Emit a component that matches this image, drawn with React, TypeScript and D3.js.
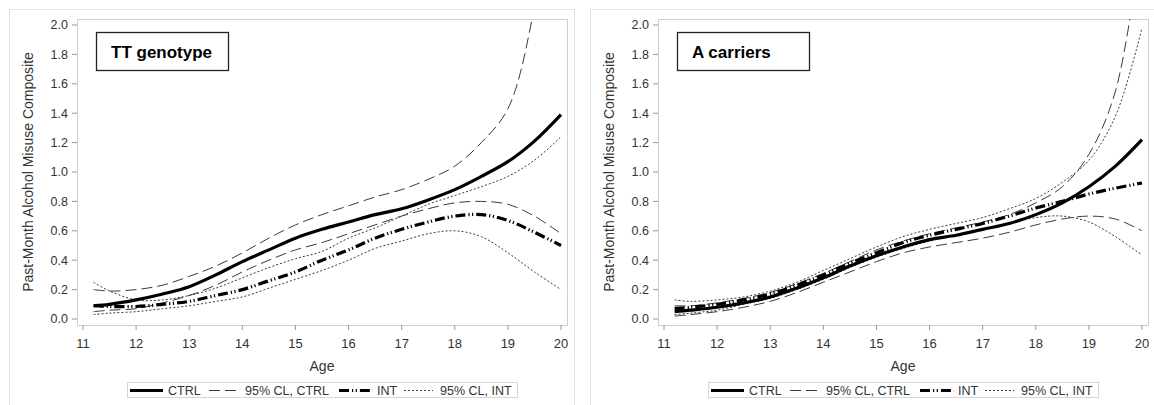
import React from 'react';
import * as d3 from 'd3';

// ages at which the fitted curves were read
const ages = [11.2, 11.5, 12, 12.5, 13, 13.5, 14, 14.5, 15, 15.5, 16, 16.5, 17, 17.5, 18, 18.5, 19, 19.5, 20];
const xTicks = [11, 12, 13, 14, 15, 16, 17, 18, 19, 20];
const yTicks = [0, 0.2, 0.4, 0.6, 0.8, 1.0, 1.2, 1.4, 1.6, 1.8, 2.0];

// TT genotype
const ttCtrl = [0.09, 0.10, 0.13, 0.17, 0.22, 0.30, 0.39, 0.47, 0.55, 0.61, 0.66, 0.71, 0.75, 0.81, 0.88, 0.97, 1.07, 1.21, 1.39];
const ttCtrlUpper = [0.20, 0.19, 0.20, 0.23, 0.29, 0.36, 0.45, 0.55, 0.64, 0.71, 0.77, 0.83, 0.88, 0.95, 1.04, 1.20, 1.43, 2.12, 3.3];
const ttCtrlLower = [0.05, 0.06, 0.07, 0.11, 0.16, 0.23, 0.32, 0.40, 0.47, 0.52, 0.58, 0.64, 0.70, 0.75, 0.79, 0.80, 0.78, 0.70, 0.58];
const ttInt = [0.09, 0.085, 0.085, 0.10, 0.12, 0.16, 0.20, 0.26, 0.32, 0.40, 0.47, 0.55, 0.61, 0.66, 0.70, 0.71, 0.67, 0.59, 0.50];
const ttIntUpper = [0.25, 0.19, 0.13, 0.13, 0.16, 0.21, 0.28, 0.35, 0.41, 0.46, 0.55, 0.62, 0.70, 0.78, 0.84, 0.90, 0.97, 1.08, 1.24];
const ttIntLower = [0.03, 0.04, 0.05, 0.07, 0.09, 0.12, 0.15, 0.21, 0.27, 0.33, 0.40, 0.48, 0.53, 0.58, 0.60, 0.56, 0.45, 0.32, 0.20];

// A carriers
const aCtrl = [0.05, 0.06, 0.08, 0.11, 0.15, 0.21, 0.28, 0.36, 0.43, 0.49, 0.54, 0.57, 0.61, 0.65, 0.71, 0.79, 0.90, 1.04, 1.22];
const aCtrlUpper = [0.09, 0.09, 0.11, 0.14, 0.18, 0.24, 0.31, 0.39, 0.47, 0.53, 0.58, 0.62, 0.66, 0.71, 0.79, 0.90, 1.12, 1.55, 2.6];
const aCtrlLower = [0.02, 0.03, 0.05, 0.08, 0.12, 0.18, 0.25, 0.32, 0.39, 0.45, 0.49, 0.52, 0.55, 0.59, 0.64, 0.68, 0.70, 0.68, 0.60];
const aInt = [0.07, 0.08, 0.10, 0.13, 0.17, 0.23, 0.30, 0.38, 0.45, 0.52, 0.57, 0.61, 0.65, 0.70, 0.755, 0.80, 0.85, 0.89, 0.925];
const aIntUpper = [0.13, 0.12, 0.13, 0.15, 0.19, 0.25, 0.33, 0.41, 0.49, 0.56, 0.61, 0.65, 0.69, 0.75, 0.82, 0.93, 1.08, 1.38, 1.98];
const aIntLower = [0.03, 0.04, 0.06, 0.10, 0.14, 0.20, 0.27, 0.35, 0.42, 0.48, 0.53, 0.57, 0.61, 0.65, 0.69, 0.70, 0.66, 0.56, 0.435];

const legendLabels = ['CTRL', '95% CL, CTRL', 'INT', '95% CL, INT'];

// 0 CTRL, 1 CL CTRL, 2 INT, 3 CL INT
const styles = [
    { stroke: '#000', width: 3.2, dash: null },
    { stroke: '#3a3a3a', width: 1, dash: '11,5' },
    { stroke: '#000', width: 3.2, dash: '10,3,1.2,2.5,1.2,3' },
    { stroke: '#3a3a3a', width: 1, dash: '2,2' },
];

const font = '"Liberation Sans", Arial, sans-serif';

// series: [ctrl, ctrlUpper, ctrlLower, int, intUpper, intLower]
function Panel({ left, title, series, clipId }) {
    const top = 19;
    const bottom = 325;
    const right = left + 490;

    const x = d3.scaleLinear().domain([10.887, 20.113]).range([left, right]);
    const y = d3.scaleLinear().domain([0, 2]).range([319, 25]);

    const line = d3.line()
        .x((d) => x(d[0]))
        .y((d) => y(d[1]))
        .curve(d3.curveCatmullRom.alpha(0.5));

    // which style each series uses, CLs drawn first
    const drawn = [
        { s: 1, st: 1 }, { s: 2, st: 1 },
        { s: 4, st: 3 }, { s: 5, st: 3 },
        { s: 0, st: 0 }, { s: 3, st: 2 },
    ];
    const mid = (left + right) / 2;

    // legend layout
    const lgLeft = mid - 195;
    const lgItems = [
        { s: 3, e: 36, t: 41 },
        { s: 82, e: 113, t: 118 },
        { s: 212, e: 246, t: 250 },
        { s: 277, e: 306, t: 313 },
    ];

    return (
        <g>
            <rect x={left - 67.5} y={9.5} width={565} height={410} fill="none" stroke="#e2e2e2" />
            <defs>
                <clipPath id={clipId}>
                    <rect x={left} y={top} width={right - left} height={bottom - top} />
                </clipPath>
            </defs>
            <rect x={left + 0.5} y={top + 0.5} width={right - left} height={bottom - top} fill="#fff" stroke="#cfcfcf" />

            {/* y axis */}
            {yTicks.map((t) => (
                <g key={t}>
                    <line x1={left - 5} x2={left} y1={y(t)} y2={y(t)} stroke="#999" />
                    <text x={left - 9} y={y(t)} dy="0.35em" textAnchor="end" fontSize={12.5} fill="#333" fontFamily={font}>
                        {t.toFixed(1)}
                    </text>
                </g>
            ))}
            <text
                transform={`translate(${left - 44},${(top + bottom) / 2}) rotate(-90)`}
                textAnchor="middle"
                fontSize={14}
                fill="#333"
                fontFamily={font}
            >
                Past-Month Alcohol Misuse Composite
            </text>

            {/* x axis */}
            {xTicks.map((t) => (
                <g key={t}>
                    <line x1={x(t)} x2={x(t)} y1={bottom} y2={bottom + 5} stroke="#999" />
                    <text x={x(t)} y={bottom + 22.5} textAnchor="middle" fontSize={13} fill="#333" fontFamily={font}>
                        {t}
                    </text>
                </g>
            ))}
            <text x={mid} y={371} textAnchor="middle" fontSize={14} fill="#333" fontFamily={font}>Age</text>

            {/* curves */}
            <g clipPath={`url(#${clipId})`}>
                {drawn.map(({ s, st }) => (
                    <path
                        key={s}
                        d={line(ages.map((a, k) => [a, series[s][k]]))}
                        fill="none"
                        stroke={styles[st].stroke}
                        strokeWidth={styles[st].width}
                        strokeDasharray={styles[st].dash || undefined}
                    />
                ))}
            </g>

            {/* title box */}
            <rect x={left + 19.5} y={32.5} width={132} height={38} fill="#fff" stroke="#222" strokeWidth={1.3} />
            <text x={left + 34} y={58} fontSize={17} fontWeight="bold" fill="#000" fontFamily={font}>{title}</text>

            {/* legend */}
            <rect x={lgLeft + 0.5} y={382.5} width={390} height={15} fill="#fff" stroke="#d6d6d6" />
            {legendLabels.map((lab, i) => (
                <g key={lab}>
                    <line
                        x1={lgLeft + lgItems[i].s}
                        x2={lgLeft + lgItems[i].e}
                        y1={390.5}
                        y2={390.5}
                        stroke={styles[i].stroke}
                        strokeWidth={styles[i].width}
                        strokeDasharray={styles[i].dash || undefined}
                    />
                    <text x={lgLeft + lgItems[i].t} y={390.5} dy="0.35em" fontSize={12.5} fill="#333" fontFamily={font}>{lab}</text>
                </g>
            ))}
        </g>
    );
}

export default function App() {
    const tt = [ttCtrl, ttCtrlUpper, ttCtrlLower, ttInt, ttIntUpper, ttIntLower];
    const ac = [aCtrl, aCtrlUpper, aCtrlLower, aInt, aIntUpper, aIntLower];
    return (
        <svg width={1154} height={405} style={{ position: 'absolute', left: 0, top: 0, background: '#fff' }}>
            <rect width={1154} height={405} fill="#fff" />
            <Panel left={77} title="TT genotype" series={tt} clipId="clipL" />
            <Panel left={658} title="A carriers" series={ac} clipId="clipR" />
        </svg>
    );
}
